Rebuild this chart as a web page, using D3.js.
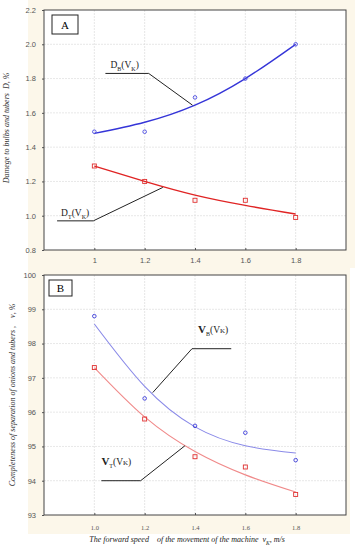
<!DOCTYPE html>
<html>
<head>
<meta charset="utf-8">
<script src="https://cdn.jsdelivr.net/npm/d3@7"></script>
<style>
  body { margin: 0; background: #fff; }
  svg { display: block; }
  text { white-space: pre; }
</style>
</head>
<body>
<svg></svg>
<script>
// speed of the machine, m/s
const speeds = [1.0, 1.2, 1.4, 1.6, 1.8];

// panel A: damage D, %
const damageB = [1.49, 1.49, 1.69, 1.80, 2.00];
const damageBFit = [1.48, 1.545, 1.645, 1.80, 2.00];
const damageT = [1.29, 1.20, 1.09, 1.09, 0.99];
const damageTFit = [1.29, 1.20, 1.12, 1.06, 1.01];
const ticksA_y = [0.8, 1.0, 1.2, 1.4, 1.6, 1.8, 2.0, 2.2];
const ticksA_x = [1, 1.2, 1.4, 1.6, 1.8];

// panel B: completeness of separation, %
const sepB = [98.8, 96.4, 95.6, 95.4, 94.6];
const sepBFit = [98.57, 96.75, 95.57, 95.02, 94.81];
const sepT = [97.3, 95.8, 94.7, 94.4, 93.6];
const sepTFit = [97.3, 95.86, 94.85, 94.17, 93.67];
const ticksB_y = [93, 94, 95, 96, 97, 98, 99, 100];
const ticksB_x = [1.0, 1.2, 1.4, 1.6, 1.8];

const width = 355, height = 550;
const svg = d3.select("svg").attr("width", width).attr("height", height);

const serif = "'Liberation Serif', 'DejaVu Serif', serif";
const sans = "'Liberation Sans', Arial, sans-serif";

function panel(o) {
  const g = svg.append("g");
  g.append("rect").attr("x", o.bg[0]).attr("y", o.bg[1]).attr("width", o.bg[2]).attr("height", o.bg[3])
    .attr("fill", "#fcf7ea");

  const x = d3.scaleLinear().domain([0.8, 2.0]).range([44, 346]);
  const y = d3.scaleLinear().domain(o.ydom).range([o.bottom, o.top]);

  g.append("rect").attr("x", 44).attr("y", o.top).attr("width", 302).attr("height", o.bottom - o.top)
    .attr("fill", "#fff");

  // grid
  g.append("g").selectAll("line").data(o.yticks.slice(1, -1)).enter().append("line")
    .attr("x1", 44).attr("x2", 346).attr("y1", d => y(d)).attr("y2", d => y(d))
    .attr("stroke", "#ddd").attr("stroke-width", 0.7).attr("stroke-dasharray", "2,1");
  g.append("g").selectAll("line").data(o.xticks).enter().append("line")
    .attr("y1", o.top).attr("y2", o.bottom).attr("x1", d => x(d)).attr("x2", d => x(d))
    .attr("stroke", "#ddd").attr("stroke-width", 0.7).attr("stroke-dasharray", "2,1");

  // axes
  const yAxis = d3.axisLeft(y).tickValues(o.yticks).tickSize(2).tickFormat(o.yfmt);
  const xAxis = d3.axisBottom(x).tickValues(o.xticks).tickSize(-2).tickFormat(o.xfmt);
  const ya = g.append("g").attr("transform", `translate(44,0)`).call(yAxis);
  const xa = g.append("g").attr("transform", `translate(0,${o.bottom})`).call(xAxis);
  [ya, xa].forEach(a => {
    a.select(".domain").remove();
    a.selectAll(".tick line").attr("stroke", "#555");
  });
  ya.selectAll("text").attr("x", -8).attr("fill", "#555").style("font-family", sans).style("font-size", "7.5px");
  xa.selectAll("text").attr("y", o.xlabDy).attr("fill", "#555").style("font-family", o.xtickFont).style("font-size", o.xtickSize + "px");

  g.append("rect").attr("x", 44).attr("y", o.top).attr("width", 302).attr("height", o.bottom - o.top)
    .attr("fill", "none").attr("stroke", "#444").attr("stroke-width", 1);

  // fitted curves
  const line = d3.line().x((d, i) => x(speeds[i])).y(d => y(d)).curve(d3.curveNatural);
  g.append("path").attr("d", line(o.fitB)).attr("fill", "none").attr("stroke", o.blue).attr("stroke-width", o.lw);
  g.append("path").attr("d", line(o.fitT)).attr("fill", "none").attr("stroke", o.red).attr("stroke-width", o.lw);

  // points
  g.append("g").selectAll("circle").data(o.ptsB).enter().append("circle")
    .attr("cx", (d, i) => x(speeds[i])).attr("cy", d => y(d)).attr("r", 1.8)
    .attr("fill", "none").attr("stroke", o.blueP).attr("stroke-width", 0.9);
  g.append("g").selectAll("rect").data(o.ptsT).enter().append("rect")
    .attr("x", (d, i) => x(speeds[i]) - 2).attr("y", d => y(d) - 2).attr("width", 4).attr("height", 4)
    .attr("fill", "none").attr("stroke", o.redP).attr("stroke-width", 0.9);

  // panel letter
  g.append("rect").attr("x", o.box[0]).attr("y", o.box[1]).attr("width", o.box[2]).attr("height", o.box[3])
    .attr("fill", "#fff").attr("stroke", "#222").attr("stroke-width", 1);
  g.append("text").attr("x", o.box[0] + o.box[2] / 2).attr("y", o.box[1] + o.box[3] / 2 + 4)
    .attr("text-anchor", "middle").style("font-family", serif).style("font-size", "11px").text(o.letter);

  // leaders
  o.leaders.forEach(l => {
    g.append("path").attr("d", d3.line()(l.pts.map(p => [x(p[0]), y(p[1])])))
      .attr("fill", "none").attr("stroke", "#222").attr("stroke-width", 1);
    const t = g.append("text").attr("x", x(l.lx)).attr("y", y(l.ly))
      .style("font-family", serif).style("font-size", "9.5px").attr("fill", "#222");
    t.append("tspan").text(l.a).style("font-weight", l.bold ? "bold" : "normal").style("font-size", l.bold ? "11px" : "9.5px");
    t.append("tspan").text(l.sub).attr("baseline-shift", "sub").style("font-size", "6px");
    t.append("tspan").text("(V");
    if (l.bold) t.append("tspan").text("K").style("font-size", "7px");
    else t.append("tspan").text("K").attr("baseline-shift", "sub").style("font-size", "6px");
    t.append("tspan").text(")");
  });

  // y title
  g.append("text").attr("transform", `translate(${o.ytitleX},${o.ytitleY}) rotate(-90)`)
    .attr("text-anchor", "middle").style("font-family", serif).style("font-style", "italic")
    .style("font-size", "8px").attr("fill", "#333").text(o.ytitle);
  return { x, y };
}

panel({
  bg: [28, 0, 327, 268], top: 10, bottom: 250, ydom: [0.8, 2.2],
  yticks: ticksA_y, xticks: ticksA_x,
  yfmt: d3.format(".1f"), xfmt: d => d === 1 ? "1" : d3.format(".1f")(d),
  xtickFont: sans, xtickSize: 7.5, xlabDy: 8,
  fitB: damageBFit, fitT: damageTFit, ptsB: damageB, ptsT: damageT,
  blue: "#3535d8", red: "#e02424", blueP: "#4a4ae0", redP: "#e03030", lw: 1.4,
  box: [52, 15, 26, 19], letter: "A",
  leaders: [
    { pts: [[1.044, 1.83], [1.216, 1.83], [1.39, 1.645]], lx: 1.064, ly: 1.86, a: "D", sub: "B" },
    { pts: [[0.852, 0.97], [0.996, 0.97], [1.272, 1.165]], lx: 0.868, ly: 1.0, a: "D", sub: "T" }
  ],
  ytitle: "Damege to bulbs and tubers  D, %", ytitleX: 9, ytitleY: 128
});

panel({
  bg: [28, 268, 322, 266], top: 275, bottom: 515, ydom: [93, 100],
  yticks: ticksB_y, xticks: ticksB_x,
  yfmt: d3.format("d"), xfmt: d3.format(".1f"),
  xtickFont: serif, xtickSize: 6.5, xlabDy: 10,
  fitB: sepBFit, fitT: sepTFit, ptsB: sepB, ptsT: sepT,
  blue: "#8a8ae8", red: "#f08a8a", blueP: "#3a3ad8", redP: "#e03030", lw: 1.1,
  box: [49, 280, 23, 16], letter: "B",
  leaders: [
    { pts: [[1.544, 97.85], [1.388, 97.85], [1.232, 96.57]], lx: 1.412, ly: 98.3, a: "V", sub: "B", bold: true },
    { pts: [[1.028, 94.0], [1.184, 94.0], [1.36, 95.02]], lx: 1.028, ly: 94.45, a: "V", sub: "T", bold: true }
  ],
  ytitle: "Completeness of separation of onions and tubers ,    ν, %", ytitleX: 15, ytitleY: 395
});

// x title
const xt = svg.append("text").attr("x", 187).attr("y", 542).attr("text-anchor", "middle")
  .style("font-family", serif).style("font-style", "italic").style("font-size", "8px").attr("fill", "#222");
xt.append("tspan").text("The forward speed    of the movement of the machine  v");
xt.append("tspan").text("K").attr("baseline-shift", "sub").style("font-size", "5.5px");
xt.append("tspan").text(", m/s");
</script>
</body>
</html>
